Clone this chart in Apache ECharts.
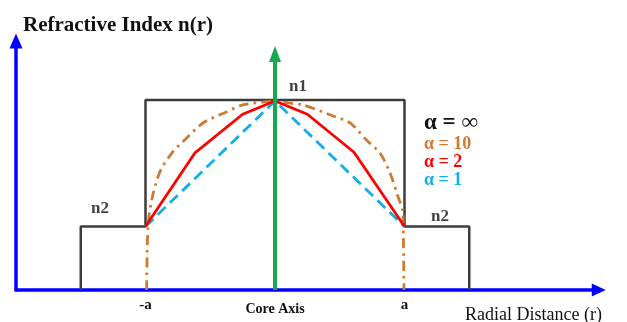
<!DOCTYPE html>
<html>
<head>
<meta charset="utf-8">
<script src="https://cdn.jsdelivr.net/npm/echarts@6/dist/echarts.min.js"></script>
<style>
  html, body { margin: 0; padding: 0; background: #fff; }
  #chart { width: 627px; height: 322px; }
</style>
</head>
<body>
<div id="chart"></div>
<script>
// r in units of core radius a, n scaled so that n1 = 1 and the r axis is 0
var n2 = 0.334;

// step index profile (alpha = infinity)
var stepProfile = [[-1.5, 0], [-1.5, n2], [-1, n2], [-1, 1], [1, 1], [1, n2], [1.5, n2], [1.5, 0]];
// alpha = 10, dash-dot
var alpha10 = [[-0.991, 0], [-0.981, 0.332], [-0.952, 0.474], [-0.888, 0.623], [-0.788, 0.728],
  [-0.71, 0.781], [-0.556, 0.879], [-0.412, 0.926], [-0.247, 0.974], [-0.064, 0.991], [0, 0.995],
  [0.116, 0.983], [0.216, 0.974], [0.448, 0.916], [0.579, 0.879], [0.718, 0.781], [0.811, 0.721],
  [0.888, 0.616], [0.95, 0.491], [0.986, 0.417], [0.99, 0.34], [0.996, 0]];
// alpha = 2
var alpha2 = [[-1, n2], [-0.62, 0.72], [-0.25, 0.925], [0, 0.995], [0.25, 0.925], [0.61, 0.725], [1, n2]];
// alpha = 1
var alpha1 = [[-1, n2], [0, 0.995], [1, n2]];

var tickValues = [-1, 0, 1];
var tickNames = ['-a', 'Core Axis', 'a'];
// text marks: [r, n, text]
var indexMarks = [[0.178, 1.068, 'n1'], [-1.351, 0.426, 'n2'], [1.274, 0.384, 'n2']];
var coreAxisTop = 1.242;

var serif = 'Liberation Serif';

var myChart = echarts.init(document.getElementById('chart'));
option = {
    animation: false,
    title: [
        {
            text: 'Refractive Index n(r)',
            left: 18, top: 10,
            textStyle: { fontFamily: serif, fontSize: 21, fontWeight: 'bold', color: '#111' }
        },
        {
            text: 'Radial Distance (r)',
            left: 460, top: 301,
            textStyle: { fontFamily: serif, fontSize: 18, fontWeight: 'normal', color: '#111' }
        }
    ],
    legend: {
        orient: 'vertical',
        left: 419,
        top: 111,
        padding: 0,
        itemGap: 0,
        itemWidth: 0,
        itemHeight: 14,
        icon: 'none',
        selectedMode: false,
        textStyle: { fontFamily: serif, fontWeight: 'bold', fontSize: 18, lineHeight: 17 },
        data: [
            { name: 'α = ∞', textStyle: { color: '#111', fontSize: 23, lineHeight: 24 } },
            { name: 'α = 10', textStyle: { color: '#cf7a33' } },
            { name: 'α = 2', textStyle: { color: '#ff0000' } },
            { name: 'α = 1', textStyle: { color: '#12aee8' } }
        ]
    },
    grid: {
        left: 16,
        right: 28.25,
        top: 41.1,
        bottom: 32,
        containLabel: false,
        outerBoundsMode: 'none'
    },
    xAxis: {
        type: 'value',
        min: -2,
        max: 2.5,
        splitLine: { show: false },
        axisTick: { show: false },
        axisLine: {
            onZero: false,
            symbol: ['none', 'triangle'],
            symbolSize: [13, 14],
            lineStyle: { color: '#0000ff', width: 3.5 }
        },
        axisLabel: {
            customValues: tickValues,
            margin: 7.5,
            formatter: function (v) {
                var i = tickValues.indexOf(v);
                if (i < 0) return '';
                return i === 1 ? '{c|' + tickNames[i] + '}' : '{a|' + tickNames[i] + '}';
            },
            rich: {
                a: { fontFamily: serif, fontWeight: 'bold', fontSize: 15, lineHeight: 15, color: '#111' },
                c: { fontFamily: serif, fontWeight: 'bold', fontSize: 14, lineHeight: 23, color: '#111' }
            }
        }
    },
    yAxis: {
        type: 'value',
        min: 0,
        max: 1.31,
        splitLine: { show: false },
        axisTick: { show: false },
        axisLabel: { show: false },
        axisLine: {
            show: true,
            onZero: false,
            symbol: ['none', 'triangle'],
            symbolSize: [13, 15],
            lineStyle: { color: '#0000ff', width: 3.5 }
        }
    },
    series: [
        {
            name: 'α = ∞',
            type: 'line',
            data: stepProfile,
            symbol: 'none',
            z: 2,
            lineStyle: { color: '#3c3c3c', width: 2.5 }
        },
        {
            name: 'α = 10',
            type: 'line',
            data: alpha10,
            symbol: 'none',
            smooth: 0.3,
            z: 3,
            lineStyle: { color: '#cf7a33', width: 2.8, type: [10, 5, 2.5, 5] }
        },
        {
            name: 'α = 1',
            type: 'line',
            data: alpha1,
            symbol: 'none',
            z: 3,
            lineStyle: { color: '#12aee8', width: 2.8, type: [11, 6] }
        },
        {
            name: 'α = 2',
            type: 'line',
            data: alpha2,
            symbol: 'none',
            z: 4,
            lineStyle: { color: '#ff0000', width: 2.8 }
        },
        {
            name: 'core axis',
            type: 'line',
            data: [],
            z: 6,
            markLine: {
                silent: true,
                symbol: ['none', 'triangle'],
                symbolSize: [12, 16],
                label: { show: false },
                lineStyle: { color: '#13a94f', width: 4, type: 'solid' },
                data: [[{ coord: [0, 0] }, { coord: [0, coreAxisTop] }]]
            }
        },
        {
            name: 'marks',
            type: 'scatter',
            data: indexMarks,
            symbolSize: 0,
            z: 7,
            label: {
                show: true,
                position: 'inside',
                formatter: function (p) { return p.value[2]; },
                fontFamily: serif,
                fontWeight: 'bold',
                fontSize: 17,
                color: '#111'
            }
        }
    ]
};
myChart.setOption(option);
</script>
</body>
</html>
